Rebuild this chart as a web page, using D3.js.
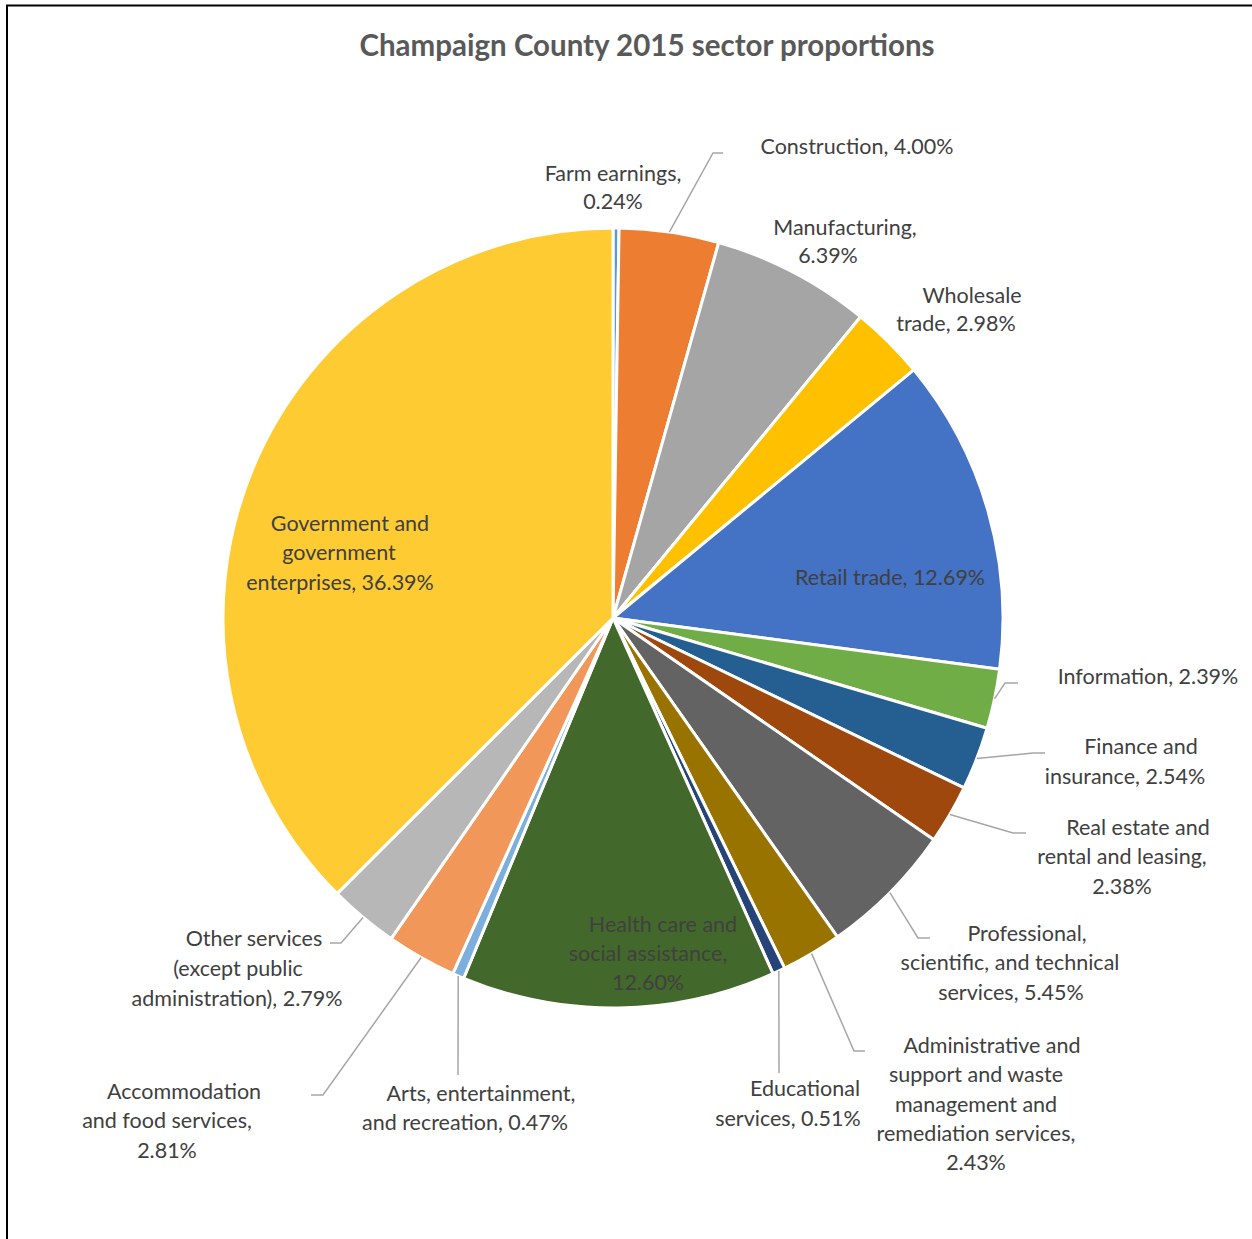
<!DOCTYPE html>
<html>
<head>
<meta charset="utf-8">
<script src="https://cdn.jsdelivr.net/npm/d3@7"></script>
<style>
  html, body { margin: 0; padding: 0; background: #fff; }
  svg { display: block; }
  text { font-family: Lato, "Open Sans", sans-serif; }
</style>
</head>
<body>
<svg id="chart" width="1252" height="1239"></svg>
<script>
// Sector names, clockwise from 12 o'clock
const sectors = [
  "Farm earnings", "Construction", "Manufacturing", "Wholesale trade", "Retail trade",
  "Information", "Finance and insurance", "Real estate and rental and leasing",
  "Professional, scientific, and technical services",
  "Administrative and support and waste management and remediation services",
  "Educational services", "Health care and social assistance",
  "Arts, entertainment, and recreation", "Accommodation and food services",
  "Other services (except public administration)", "Government and government enterprises"
];
// Share of earnings, percent
const shares = [0.24, 4.00, 6.39, 2.98, 12.69, 2.39, 2.54, 2.38, 5.45, 2.43, 0.51, 12.60, 0.47, 2.81, 2.79, 36.39];
const sliceColors = [
  "#5B9BD5", "#ED7D31", "#A5A5A5", "#FFC000", "#4472C4", "#70AD47", "#255E91", "#9E480E",
  "#636363", "#997300", "#264478", "#43682B", "#7CAFDD", "#F1975A", "#B7B7B7", "#FECB33"
];

// Label placement: words per line, line centres, and optional leader bend/end points
const labelLayout = [
  { words: [2, 1], pos: [[613, 173], [613, 201]] },
  { words: [3], pos: [[857, 146]], leader: [[713, 153], [723, 153]] },
  { words: [1, 1], pos: [[845, 227], [828, 255]] },
  { words: [1, 2], pos: [[972, 295], [956, 323]] },
  { words: [3], pos: [[890, 577]], inside: true },
  { words: [2], pos: [[1148, 676]], leader: [[1005, 683], [1018, 683]] },
  { words: [2, 2], pos: [[1141, 746], [1125, 776]], leader: [[1033, 753], [1045, 753]] },
  { words: [3, 3, 1], pos: [[1138, 827], [1122, 856], [1122, 886]], leader: [[1013, 833], [1026, 833]] },
  { words: [1, 3, 2], pos: [[1027, 933], [1010, 962], [1011, 992]], leader: [[918, 938], [930, 938]] },
  { words: [2, 3, 2, 2, 1], pos: [[992, 1045], [976, 1074], [976, 1104], [976, 1133], [976, 1162]], leader: [[854, 1051], [865, 1051]] },
  { words: [1, 2], pos: [[805, 1088], [788, 1118]], leader: [[779, 1073]] },
  { words: [3, 2, 1], pos: [[663, 924], [648, 953], [648, 982]], inside: true },
  { words: [2, 3], pos: [[481, 1093], [465, 1122]], leader: [[458, 1075]] },
  { words: [1, 3, 1], pos: [[184, 1091], [167, 1120], [167, 1150]], leader: [[323, 1095], [311, 1095]] },
  { words: [2, 2, 2], pos: [[254, 938], [238, 968], [237, 998]], leader: [[341, 943], [330, 943]] },
  { words: [2, 1, 2], pos: [[350, 523], [339, 552], [340, 582]], inside: true }
];

const svg = d3.select("#chart");
const cx = 613, cy = 618, radius = 390;

// Frame lines (top and left)
svg.append("line").attr("x1", 6).attr("x2", 1252).attr("y1", 5.5).attr("y2", 5.5)
  .attr("stroke", "#000").attr("stroke-width", 2);
svg.append("line").attr("x1", 7).attr("x2", 7).attr("y1", 5).attr("y2", 1239)
  .attr("stroke", "#000").attr("stroke-width", 2);

// Title
svg.append("text")
  .attr("x", 647).attr("y", 56)
  .attr("text-anchor", "middle")
  .attr("font-size", 29.5).attr("font-weight", "bold")
  .attr("fill", "#595959")
  .text("Champaign County 2015 sector proportions");

const data = sectors.map((name, i) => ({ name, value: shares[i], color: sliceColors[i], layout: labelLayout[i] }));

const pie = d3.pie().sort(null).value(d => d.value);
const arcs = pie(data);
const arc = d3.arc().innerRadius(0).outerRadius(radius);

const g = svg.append("g").attr("transform", `translate(${cx},${cy})`);
g.selectAll("path.slice")
  .data(arcs)
  .join("path")
  .attr("class", "slice")
  .attr("d", arc)
  .attr("fill", d => d.data.color)
  .attr("stroke", "#fff")
  .attr("stroke-width", 3)
  .attr("stroke-linejoin", "round");

// Leader lines from the outer edge at each slice's mid-angle
arcs.forEach(a => {
  const lay = a.data.layout;
  if (!lay.leader) return;
  const mid = (a.startAngle + a.endAngle) / 2;
  const start = [cx + radius * Math.sin(mid), cy - radius * Math.cos(mid)];
  const pts = [start, ...lay.leader];
  svg.append("path")
    .attr("d", d3.line()(pts))
    .attr("fill", "none")
    .attr("stroke", "#A6A6A6")
    .attr("stroke-width", 1.5);
});

// Data labels: "Name, xx.xx%"
arcs.forEach(a => {
  const lay = a.data.layout;
  const words = `${a.data.name}, ${a.data.value.toFixed(2)}%`.split(" ");
  let k = 0;
  lay.words.forEach((n, li) => {
    const line = words.slice(k, k + n).join(" ");
    k += n;
    svg.append("text")
      .attr("x", lay.pos[li][0])
      .attr("y", lay.pos[li][1])
      .attr("dy", "0.35em")
      .attr("text-anchor", "middle")
      .attr("font-size", 21.5)
      .attr("fill", "#404040")
      .text(line);
  });
});
</script>
</body>
</html>
